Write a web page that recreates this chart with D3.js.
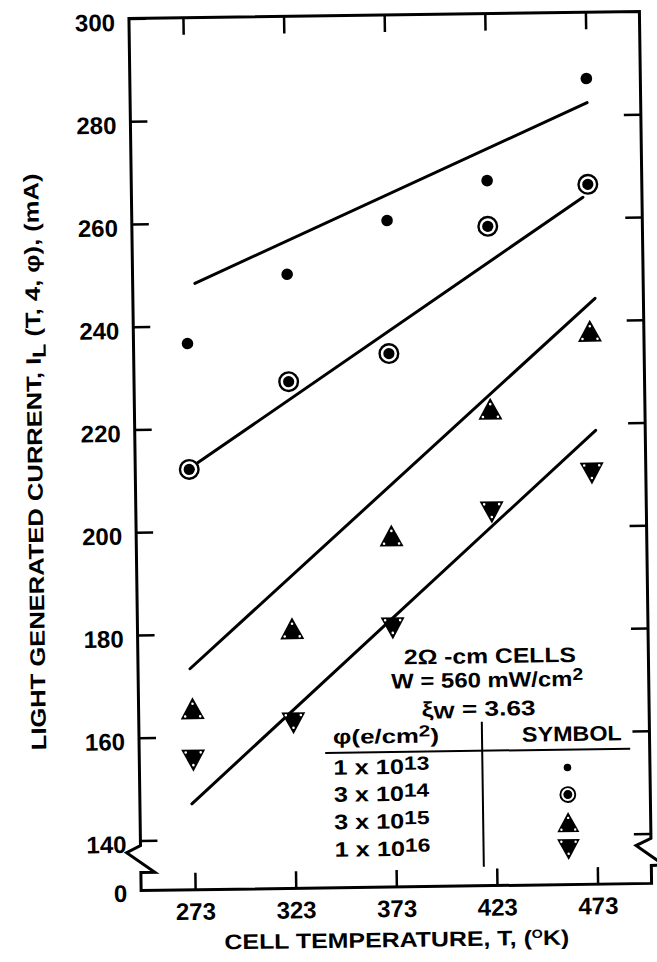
<!DOCTYPE html>
<html><head><meta charset="utf-8">
<script src="https://cdn.jsdelivr.net/npm/d3@7"></script>
<style>
html,body{margin:0;padding:0;background:#fff;}
svg{display:block;}
text{font-family:"Liberation Sans", Arial, Helvetica, sans-serif; fill:#000;}
</style></head><body>
<svg id="chart" width="657" height="962"></svg>
<script>
// ---------------- data ----------------
const temperatures = [273, 323, 373, 423, 473];
const yTickValues = [140, 160, 180, 200, 220, 240, 260, 280, 300];
const yBreakLabel = "0";
const seriesNames = ["1 x 10|13", "3 x 10|14", "3 x 10|15", "1 x 10|16"];
const seriesSymbols = ["dot", "ring", "up", "down"];
const current1e13 = [236.6, 249.8, 260.0, 267.5, 287.1];
const current3e14 = [212.1, 228.9, 234.1, 258.6, 266.5];
const current3e15 = [165.6, 180.9, 198.7, 223.1, 238.0];
const current1e16 = [155.4, 162.4, 180.6, 202.9, 210.2];
const fit1e13 = [[277.1, 248.3], [473.2, 282.4]];
const fit3e14 = [[277.4, 213.4], [470.5, 264.0]];
const fit3e15 = [[272.0, 173.3], [475.8, 244.3]];
const fit1e16 = [[272.0, 147.0], [475.2, 218.6]];
const xTitle = ["CELL TEMPERATURE, T, (", "O", "K)"];
const yTitle = ["LIGHT GENERATED CURRENT, I", "L", " (T, 4, \u03C6), (mA)"];
const noteLine1 = "2\u03A9 -cm CELLS";
const noteLine2 = ["W = 560 mW/cm", "2"];
const noteLine3 = ["\u03BE", "W", " = 3.63"];
const headerLeft = ["\u03C6(e/cm", "2", ")"];
const headerRight = "SYMBOL";

const seriesValues = [current1e13, current3e14, current3e15, current1e16];
const seriesFits = [fit1e13, fit3e14, fit3e15, fit1e16];

// ---------------- layout ----------------
const frame = {left: 135, right: 645.5, top: 15, bottom: 887, brk: 842};
const xScale = d3.scaleLinear().domain([273, 473]).range([189, 591.5]);
const yScale = d3.scaleLinear().domain([140, 300]).range([837, 15]);

const svg = d3.select("#chart");
const g = svg.append("g").attr("transform", "rotate(-0.8,390,450)");

function fitWidth(sel, target, ax, ay) {
  const w = sel.node().getBBox().width;
  const s = target / w;
  sel.attr("transform", `translate(${ax},${ay}) scale(${s},1) translate(${-ax},${-ay})`);
}

// frame with axis breaks
const L = frame.left, R = frame.right, B = frame.bottom, T = frame.top, k = frame.brk;
const p = d3.path();
p.moveTo(L, T); p.lineTo(L, k); p.lineTo(L - 14, k + 7); p.lineTo(L + 14, k + 27); p.lineTo(L, k + 27); p.lineTo(L, B);
p.lineTo(R, B); p.lineTo(R, k + 27); p.lineTo(R + 13, k + 27); p.lineTo(R - 15, k + 7); p.lineTo(R, k); p.lineTo(R, T); p.closePath();
g.append("path").attr("d", p.toString()).attr("fill", "none").attr("stroke", "#000").attr("stroke-width", 3).attr("stroke-linejoin", "miter");

function styleAxis(sel) {
  sel.select(".domain").remove();
  sel.selectAll(".tick line").attr("stroke", "#000").attr("stroke-width", 2.5);
  sel.selectAll(".tick text").attr("font-size", 24).attr("font-weight", "bold").attr("fill", "#000").attr("font-family", '"Liberation Sans", Arial, sans-serif');
}

const leftAxis = g.append("g").attr("transform", `translate(${L},0)`)
  .call(d3.axisLeft(yScale).tickValues(yTickValues).tickSize(-17).tickPadding(14).tickFormat(d3.format("d")));
styleAxis(leftAxis);
leftAxis.selectAll(".tick text").attr("y", 4);

const rightAxis = g.append("g").attr("transform", `translate(${R},0)`)
  .call(d3.axisRight(yScale).tickValues(yTickValues.slice(0, -1)).tickSize(-17).tickFormat(""));
styleAxis(rightAxis);

const topAxis = g.append("g").attr("transform", `translate(0,${T})`)
  .call(d3.axisTop(xScale).tickValues(temperatures).tickSize(-17).tickFormat(""));
styleAxis(topAxis);

const bottomAxis = g.append("g").attr("transform", `translate(0,${B})`)
  .call(d3.axisBottom(xScale).tickValues(temperatures).tickSize(-17).tickPadding(13).tickFormat(d3.format("d")));
styleAxis(bottomAxis);

g.append("text").attr("x", L - 14).attr("y", B + 11).attr("text-anchor", "end")
  .attr("font-size", 24).attr("font-weight", "bold").text(yBreakLabel);

// axis titles
const xt = g.append("text").attr("x", 390).attr("y", 947).attr("text-anchor", "middle")
  .attr("font-size", 21).attr("font-weight", "bold");
xt.append("tspan").text(xTitle[0]);
xt.append("tspan").attr("font-size", 12).attr("dy", -7).text(xTitle[1]);
xt.append("tspan").attr("dy", 7).text(xTitle[2]);
fitWidth(xt, 345, 390, 947);

const ytg = g.append("g").attr("transform", "translate(42,457) rotate(-90)");
const yt = ytg.append("text").attr("x", 0).attr("y", 0).attr("text-anchor", "middle")
  .attr("font-size", 21).attr("font-weight", "bold");
yt.append("tspan").text(yTitle[0]);
yt.append("tspan").attr("font-size", 19).attr("dy", 5).text(yTitle[1]);
yt.append("tspan").attr("dy", -5).text(yTitle[2]);
fitWidth(yt, 577, 0, 0);

// symbols
function drawSymbol(parent, type, cx, cy, s) {
  const m = parent.append("g").attr("transform", `translate(${cx},${cy})`);
  if (type === "dot") {
    m.append("circle").attr("r", 5.8 * s).attr("fill", "#000");
  } else if (type === "ring") {
    m.append("circle").attr("r", 9.3 * s).attr("fill", "#fff").attr("stroke", "#000").attr("stroke-width", 2.4 * s);
    m.append("circle").attr("r", 5.6 * s).attr("fill", "#000");
  } else {
    const w = 24 * s, h = 22 * s, d = type === "up" ? 1 : -1;
    m.append("path").attr("d", `M0,${-d * h / 2}L${w / 2},${d * h / 2}L${-w / 2},${d * h / 2}Z`).attr("fill", "#000");
    const specks = [[0, -d * (h / 2 - 6.5 * s)], [-(w / 2 - 4.5 * s), d * (h / 2 - 2.8 * s)], [w / 2 - 4.5 * s, d * (h / 2 - 2.8 * s)]];
    specks.forEach(q => m.append("circle").attr("cx", q[0]).attr("cy", q[1]).attr("r", 1.3 * s).attr("fill", "#fff"));
  }
  return m;
}

// fit lines
const line = d3.line().x(d => xScale(d[0])).y(d => yScale(d[1]));
seriesFits.forEach(f => {
  g.append("path").attr("d", line(f)).attr("fill", "none").attr("stroke", "#000")
    .attr("stroke-width", 3).attr("stroke-linecap", "round");
});

// data points
seriesValues.forEach((vals, si) => {
  vals.forEach((v, i) => drawSymbol(g, seriesSymbols[si], xScale(temperatures[i]), yScale(v), 1));
});

// legend / notes
const n1 = g.append("text").attr("x", 487).attr("y", 664.5).attr("text-anchor", "middle").attr("font-size", 21).attr("font-weight", "bold").text(noteLine1);
fitWidth(n1, 172, 487, 664.5);
const n2 = g.append("text").attr("x", 484).attr("y", 688.5).attr("text-anchor", "middle").attr("font-size", 21).attr("font-weight", "bold");
n2.append("tspan").text(noteLine2[0]);
n2.append("tspan").attr("font-size", 17).attr("dy", -6).text(noteLine2[1]);
fitWidth(n2, 192, 484, 688.5);
const n3 = g.append("text").attr("x", 418).attr("y", 717).attr("font-size", 21).attr("font-weight", "bold");
n3.append("tspan").text(noteLine3[0]);
n3.append("tspan").attr("font-size", 18).attr("dy", 2).text(noteLine3[1]);
n3.append("tspan").attr("dy", -2).text(noteLine3[2]);
fitWidth(n3, 114, 418, 717);

const h1 = g.append("text").attr("x", 329).attr("y", 743).attr("font-size", 20).attr("font-weight", "bold");
h1.append("tspan").text(headerLeft[0]);
h1.append("tspan").attr("font-size", 16).attr("dy", -6).text(headerLeft[1]);
h1.append("tspan").attr("dy", 6).text(headerLeft[2]);
fitWidth(h1, 106, 329, 743);
const h2 = g.append("text").attr("x", 518).attr("y", 743.5).attr("font-size", 21).attr("font-weight", "bold").text(headerRight);
fitWidth(h2, 100, 518, 743.5);

g.append("line").attr("x1", 321).attr("x2", 626).attr("y1", 752).attr("y2", 752).attr("stroke", "#000").attr("stroke-width", 2);
g.append("line").attr("x1", 478).attr("x2", 478).attr("y1", 723).attr("y2", 868).attr("stroke", "#000").attr("stroke-width", 2);

const rowBase = [774, 801, 828.5, 856];
const legendScale = {dot: 0.65, ring: 0.8, up: 0.92, down: 0.95};
seriesNames.forEach((name, i) => {
  const parts = name.split("|");
  const t = g.append("text").attr("x", 329).attr("y", rowBase[i]).attr("font-size", 21).attr("font-weight", "bold");
  t.append("tspan").text(parts[0]);
  t.append("tspan").attr("font-size", 19).attr("dy", -4).text(parts[1]);
  fitWidth(t, 96, 329, rowBase[i]);
  drawSymbol(g, seriesSymbols[i], 563, rowBase[i] - 4, legendScale[seriesSymbols[i]]);
});
</script>
</body></html>
